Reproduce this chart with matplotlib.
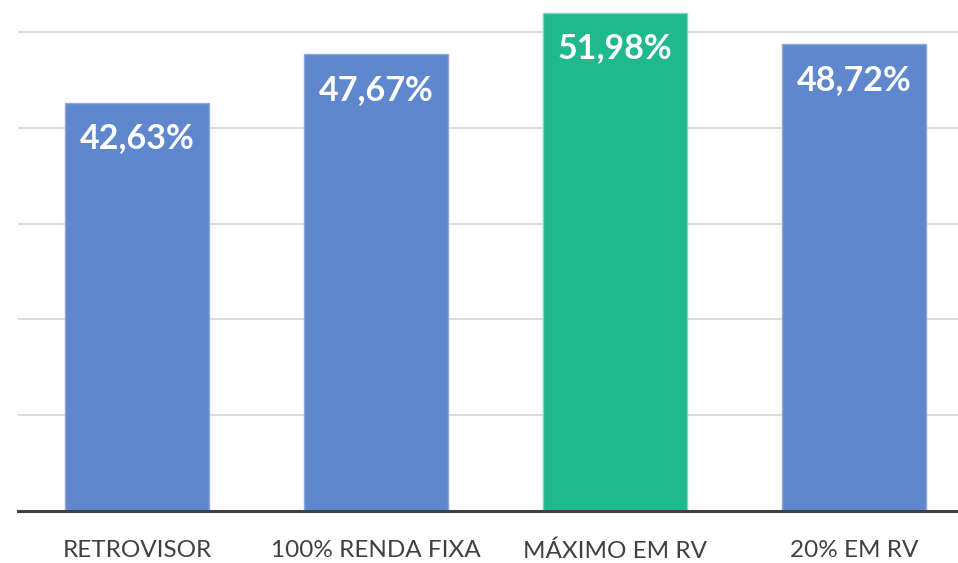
import matplotlib.pyplot as plt

categorias = ['RETROVISOR', '100% RENDA FIXA', 'MÁXIMO EM RV', '20% EM RV']
valores = [42.63, 47.67, 51.98, 48.72]
rotulos = ['42,63%', '47,67%', '51,98%', '48,72%']
cores = ['#5F87CD', '#5F87CD', '#20B98E', '#5F87CD']
bordas = ['#8EA8DB', '#8EA8DB', '#7BD6BA', '#8EA8DB']

plt.rcParams['font.family'] = ['Lato', 'DejaVu Sans']

fig = plt.figure(figsize=(9.58, 5.63), dpi=100)
ax = fig.add_axes([0.0183, 0.0924, 0.9817, 0.9076])

x = range(len(categorias))
barras = ax.bar(x, valores, width=0.6, color=cores, edgecolor=bordas, linewidth=1, zorder=3)

for b, r in zip(barras, rotulos):
    ax.annotate(r, (b.get_x() + b.get_width() / 2, b.get_height()),
                xytext=(0, -25.5), textcoords='offset points',
                ha='center', va='center', color='white',
                fontsize=24.5, fontweight='bold', zorder=4)

ax.set_xlim(-0.5, 3.435)
ax.set_ylim(0, 53.34)
ax.set_yticks([10, 20, 30, 40, 50])
ax.yaxis.grid(True, color='#D9D9D9', linewidth=1.3, zorder=0)
ax.tick_params(axis='y', left=False, labelleft=False)
ax.set_xticks(list(x))
ax.set_xticklabels(categorias, fontsize=17.5, color='#404040')
ax.tick_params(axis='x', length=0, pad=21)

for s in ['top', 'right', 'left']:
    ax.spines[s].set_visible(False)
ax.spines['bottom'].set_color('#404040')
ax.spines['bottom'].set_linewidth(2.2)
ax.spines['bottom'].set_zorder(5)

fig.savefig('out.png', dpi=100)
